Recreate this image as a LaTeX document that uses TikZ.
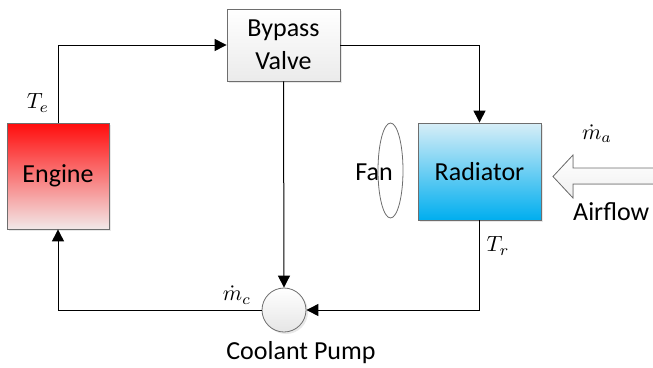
\documentclass[tikz,border=0pt]{standalone}
\usepackage{fontspec}
\setmainfont{Carlito}
\usepackage{tikz}
\usetikzlibrary{arrows.meta, positioning, shapes.geometric, shadows}

\definecolor{boxline}{RGB}{110,110,110}
\definecolor{engtop}{RGB}{255,12,12}
\definecolor{engbot}{RGB}{242,232,232}
\definecolor{radtop}{RGB}{215,238,247}
\definecolor{radbot}{RGB}{0,174,239}

\tikzset{
  unit/.style={draw=boxline, line width=0.8pt, inner sep=0pt, align=center,
    font=\fontsize{26}{33}\selectfont,
    drop shadow={shadow xshift=2pt, shadow yshift=-2pt, opacity=0.18}},
  flow/.style={-{Triangle[length=12pt,width=12pt]}, line width=1pt},
  lab/.style={font=\fontsize{26}{33}\selectfont, inner sep=0pt},
  sym/.style={inner sep=0pt}
}
\newcommand{\bigsym}[1]{\scalebox{2.2}{$#1$}}

\begin{document}
\begin{tikzpicture}[x=1pt, y=-1pt]
  \useasboundingbox (0,0) rectangle (653,367);

  % Blocks
  \node[unit, minimum width=102pt, minimum height=106pt,
    top color=engtop, bottom color=engbot] (engine) at (58,176) {Engine};
  \node[unit, minimum width=113pt, minimum height=72pt,
    top color=white, bottom color=black!8] (valve) at (283.5,45) {Bypass\\Valve};
  \node[unit, minimum width=123pt, minimum height=97pt,
    top color=radtop, bottom color=radbot] (radiator) at (479.5,171.5) {Radiator};
  \node[unit, circle, minimum size=44pt,
    top color=white, bottom color=black!10] (pump) at (284,310) {};
  \node[draw=boxline, line width=0.8pt, ellipse, inner sep=0pt,
    minimum width=25pt, minimum height=95pt, fill=white] (fan) at (390.5,170.5) {};

  % Texts
  \node[lab] (fanlab) at (374,172) {Fan};
  \node[lab] (pumplab) at (301,353) {Coolant Pump};
  \node[lab, anchor=west] (airlab) at (573,212) {Airflow};
  \node[sym] (te) at (38,103) {\bigsym{T_e}};
  \node[sym] (tr) at (498,246) {\bigsym{T_r}};
  \node[sym] (ma) at (597,134) {\bigsym{\dot{m}_a}};
  \node[sym] (mc) at (237,295) {\bigsym{\dot{m}_c}};

  % Coolant loop
  \draw[flow] (engine.north) |- (valve.west);
  \draw[flow] (valve.east) -| (radiator.north);
  \draw[flow] (valve.south) -- (pump.north);
  \draw[flow] (radiator.south) |- (pump.east);
  \draw[flow] (pump.west) -| (engine.south);

  % Airflow arrow
  \fill[top color=white, bottom color=black!6]
    (653,168) -- (573,168) -- (573,155) -- (553,176.5)
    -- (573,198) -- (573,184) -- (653,184) -- cycle;
  \draw[boxline, line width=0.8pt, line join=miter]
    (653,168) -- (573,168) -- (573,155) -- (553,176.5)
    -- (573,198) -- (573,184) -- (653,184);
\end{tikzpicture}
\end{document}
